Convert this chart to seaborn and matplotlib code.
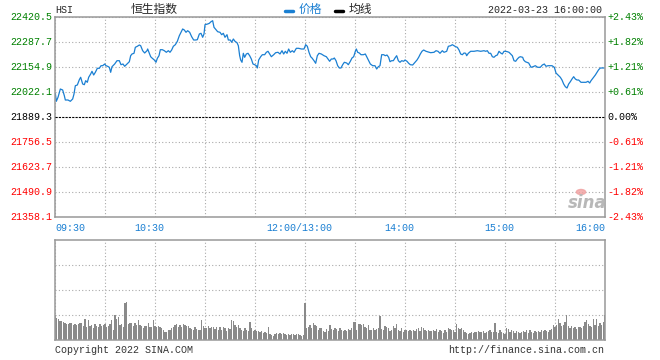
import matplotlib
matplotlib.use("Agg")
import numpy as np
import pandas as pd
import seaborn as sns
from matplotlib import pyplot as plt
from matplotlib import transforms
from matplotlib.lines import Line2D

# Minuten seit 09:30 (Handelszeit, Mittagspause ausgeblendet) und Kurs
minutes = [0.2, 0.8, 1.8, 3.2, 4.6, 5.6, 6.2, 7.8, 9.2, 10.6, 11.4, 12.2, 13.4, 14.6, 15.4, 16.6, 17.6, 18.4, 19.4, 20.2,
           21.4, 22.2, 23.2, 24.2, 25.4, 26.6, 27.6, 28.6, 29.8, 30.6, 31.6, 32.6, 33.4, 34.2, 35.8, 37.2, 38.6, 39.6, 40.8, 41.8,
           43.2, 44.6, 45.4, 46.2, 47.4, 48.2, 49.4, 50.6, 51.4, 52.6, 53.8, 55.2, 55.6, 56.6, 57.4, 58.4, 59.6, 60.6, 61.4, 62.4,
           63.2, 64.4, 65.6, 66.8, 68.0, 69.0, 70.0, 71.0, 72.2, 73.4, 74.6, 75.6, 76.6, 77.6, 78.6, 79.6, 80.8, 82.0, 83.2, 84.4,
           85.4, 86.6, 87.6, 88.6, 89.4, 90.0, 91.6, 92.6, 93.6, 94.6, 95.4, 96.6, 97.6, 99.0, 100.0, 101.0, 102.0, 103.2, 104.0, 105.2,
           106.0, 107.0, 108.0, 109.2, 110.0, 110.8, 111.4, 112.2, 113.0, 113.8, 114.8, 115.8, 116.8, 117.8, 118.8, 119.8, 120.8, 121.4, 122.2, 123.4,
           124.4, 125.8, 126.8, 127.8, 128.8, 129.8, 131.2, 132.4, 133.8, 135.0, 136.2, 137.2, 138.2, 139.2, 140.2, 141.2, 142.4, 143.4, 144.8, 146.2,
           147.8, 149.4, 150.4, 151.4, 152.4, 153.4, 154.2, 155.4, 156.4, 157.4, 158.4, 159.8, 161.4, 162.8, 163.8, 164.8, 165.8, 166.8, 167.6, 168.6,
           169.6, 170.6, 171.6, 172.6, 173.6, 175.0, 176.0, 177.2, 178.2, 179.2, 180.2, 180.8, 181.6, 182.6, 183.6, 185.0, 186.2, 187.2, 188.2, 189.2,
           190.6, 192.0, 193.0, 194.0, 195.0, 196.0, 197.2, 198.2, 199.2, 200.2, 201.0, 202.0, 203.0, 204.0, 205.0, 206.0, 207.0, 208.0, 209.2, 210.0,
           211.2, 212.2, 213.2, 214.6, 216.0, 217.2, 218.2, 219.2, 220.2, 221.2, 222.6, 225.4, 227.4, 228.6, 229.8, 231.0, 232.4, 233.4, 235.0, 236.0,
           237.4, 238.4, 239.4, 240.4, 241.4, 242.4, 243.4, 244.4, 245.4, 246.4, 247.0, 248.0, 249.4, 251.4, 253.4, 255.4, 257.4, 258.4, 259.4, 260.4,
           261.4, 262.4, 263.4, 264.4, 265.4, 266.4, 267.4, 268.4, 269.4, 270.4, 271.4, 272.4, 273.4, 274.4, 275.4, 276.4, 277.4, 278.4, 279.2, 280.6,
           281.2, 282.2, 284.2, 285.6, 286.8, 288.2, 289.6, 291.2, 292.4, 293.6, 294.6, 295.8, 297.2, 298.2, 299.6, 300.6, 301.8, 303.2, 304.2, 305.2,
           306.2, 307.2, 308.2, 309.2, 310.2, 311.2, 312.2, 313.2, 314.2, 315.6, 317.2, 318.6, 319.8, 320.8, 321.6, 322.8, 324.2, 325.2, 326.2, 327.2,
           328.2, 329.6]
prices = [22015.2, 21972.7, 21993.9, 22038.0, 22032.7, 22002.4, 21979.6, 21979.6, 21972.7, 21984.9, 22011.5, 22055.6, 22059.3, 22087.4, 22100.2, 22064.6, 22060.9, 22082.1, 22073.6, 22100.2,
          22117.7, 22132.1, 22112.4, 22126.7, 22148.0, 22148.0, 22161.8, 22161.8, 22170.8, 22161.8, 22158.6, 22153.3, 22126.7, 22156.5, 22170.8, 22188.4, 22188.4, 22167.1, 22170.8, 22158.6,
          22170.8, 22183.0, 22214.9, 22224.0, 22227.7, 22259.5, 22264.9, 22271.8, 22268.0, 22241.5, 22229.3, 22241.5, 22250.5, 22227.7, 22209.6, 22201.1, 22192.1, 22179.9, 22201.1, 22214.9,
          22246.8, 22246.8, 22241.5, 22233.0, 22241.5, 22233.0, 22245.2, 22264.9, 22273.4, 22291.4, 22321.2, 22339.2, 22356.8, 22351.4, 22339.2, 22347.7, 22339.2, 22315.8, 22298.3, 22298.3,
          22299.9, 22330.2, 22333.9, 22312.7, 22330.2, 22379.6, 22383.3, 22387.0, 22395.5, 22400.8, 22365.8, 22353.0, 22342.4, 22339.2, 22326.5, 22333.9, 22312.7, 22326.5, 22298.3, 22298.3,
          22286.1, 22303.6, 22291.4, 22284.0, 22268.0, 22214.9, 22192.1, 22179.9, 22227.7, 22206.4, 22224.0, 22227.7, 22214.9, 22197.4, 22170.8, 22167.1, 22161.8, 22149.6, 22192.1, 22209.6,
          22220.2, 22220.2, 22233.0, 22238.3, 22224.0, 22209.6, 22220.2, 22230.9, 22233.0, 22224.0, 22241.5, 22224.0, 22238.3, 22227.7, 22250.5, 22233.0, 22241.5, 22233.0, 22254.2, 22254.2,
          22250.5, 22250.5, 22273.4, 22264.9, 22233.0, 22209.6, 22202.7, 22188.4, 22174.6, 22214.9, 22227.7, 22224.0, 22214.9, 22209.6, 22197.4, 22185.2, 22197.4, 22197.4, 22202.7, 22188.4,
          22161.8, 22149.6, 22149.6, 22167.1, 22179.9, 22176.1, 22167.1, 22185.2, 22202.7, 22209.6, 22238.3, 22250.5, 22233.0, 22229.3, 22220.2, 22220.2, 22224.0, 22206.4, 22188.4, 22170.8,
          22161.8, 22161.8, 22144.3, 22156.5, 22161.8, 22220.2, 22220.2, 22214.9, 22218.6, 22206.4, 22183.0, 22188.4, 22188.4, 22202.7, 22214.9, 22188.4, 22179.9, 22188.4, 22185.2, 22192.1,
          22185.2, 22174.6, 22167.1, 22165.5, 22179.9, 22192.1, 22206.4, 22224.0, 22238.3, 22245.2, 22238.3, 22230.9, 22233.0, 22241.5, 22238.3, 22227.7, 22241.5, 22233.0, 22238.3, 22264.9,
          22268.0, 22273.4, 22268.0, 22262.7, 22259.5, 22245.2, 22224.0, 22220.2, 22229.3, 22227.7, 22214.9, 22227.7, 22238.3, 22238.3, 22241.5, 22238.3, 22241.5, 22238.3, 22241.5, 22227.7,
          22227.7, 22209.6, 22206.4, 22214.9, 22218.6, 22238.3, 22229.3, 22224.0, 22238.3, 22238.3, 22236.2, 22233.0, 22224.0, 22214.9, 22188.4, 22185.2, 22197.4, 22206.4, 22209.6, 22206.4,
          22192.1, 22183.0, 22176.1, 22153.3, 22156.5, 22161.8, 22153.3, 22153.3, 22165.5, 22170.8, 22158.6, 22161.8, 22161.8, 22161.8, 22153.3, 22123.0, 22112.4, 22100.2, 22085.8, 22064.6,
          22050.2, 22043.3, 22064.6, 22076.8, 22091.2, 22103.4, 22091.2, 22085.8, 22085.8, 22073.6, 22073.6, 22073.6, 22078.9, 22069.9, 22082.1, 22096.5, 22112.4, 22126.7, 22140.6, 22149.6,
          22149.6, 22149.6]
assert len(minutes) == len(prices), (len(minutes), len(prices))

# Umsatz pro Minute (relative Balkenhöhe, Panel = 100)
volume = [25, 22, 21, 19, 19, 18, 17, 16, 16, 17, 17, 15, 16, 15, 16, 17, 17, 14, 21, 13,
          20, 14, 15, 12, 16, 14, 13, 16, 14, 15, 16, 13, 14, 16, 20, 10, 25, 21, 23, 15,
          16, 13, 37, 38, 16, 17, 17, 14, 17, 15, 20, 15, 14, 12, 14, 14, 17, 13, 13, 20,
          14, 13, 14, 13, 12, 10, 8, 8, 10, 10, 12, 13, 15, 16, 13, 15, 13, 16, 15, 14,
          14, 12, 11, 10, 13, 11, 10, 10, 20, 14, 12, 12, 14, 12, 13, 13, 11, 13, 10, 13,
          10, 13, 12, 9, 12, 11, 20, 19, 15, 13, 15, 12, 10, 9, 12, 10, 9, 18, 12, 9,
          10, 9, 9, 8, 9, 7, 8, 7, 13, 6, 5, 4, 6, 7, 6, 7, 6, 7, 6, 5,
          6, 5, 6, 6, 5, 6, 6, 5, 4, 5,
          37, 12, 13, 15, 12, 17, 15, 14, 10, 12, 12, 9, 8, 11, 9,
          15, 11, 10, 12, 11, 9, 12, 10, 9, 10, 9, 11, 10, 12, 18, 18, 10, 16, 16, 15,
          16, 13, 12, 15, 10, 10, 12, 10, 11, 12, 24, 11, 10, 14, 13, 12, 9, 10, 14, 12,
          16, 10, 9, 12, 8, 10, 10, 9, 10, 9, 10, 9, 11, 12, 9, 13, 12, 10, 9, 10,
          9, 9, 10, 9, 11, 8, 10, 9, 7, 10, 8, 12, 11, 10, 10, 8, 16, 12, 11, 12,
          10, 8, 7, 6, 7, 8, 7, 8, 8, 9, 8, 8, 9, 7, 8, 9, 10, 8, 8, 17,
          8, 7, 10, 8, 7, 6, 12, 11, 8, 10, 9, 7, 9, 8, 7, 8, 9, 8, 10, 7,
          10, 8, 7, 9, 8, 9, 8, 10, 9, 10, 9, 8, 10, 11, 15, 13, 15, 21, 17, 14,
          15, 18, 25, 14, 12, 14, 12, 13, 11, 13, 13, 12, 14, 18, 20, 16, 14, 13, 21, 15,
          21, 14, 17, 15, 18, 25]
vol_minutes = list(range(len(volume)))

prev_close = 21889.3
price_ticks = [22420.5, 22287.7, 22154.9, 22022.1, 21889.3, 21756.5, 21623.7, 21490.9, 21358.1]
pct_labels = ["+2.43%", "+1.82%", "+1.21%", "+0.61%", "0.00%", "-0.61%", "-1.21%", "-1.82%", "-2.43%"]
time_ticks = [0, 60, 150, 210, 270, 330]
time_labels = ["09:30", "10:30", "12:00/13:00", "14:00", "15:00", "16:00"]
grid_minutes = list(range(0, 331, 30))

sns.set_style("white")
plt.rcParams['font.family'] = ['Liberation Mono', 'Noto Sans CJK SC', 'DejaVu Sans']

W, H = 660, 360
fig = plt.figure(figsize=(6.6, 3.6), dpi=100)
ax = fig.add_axes([55 / W, 1 - 217 / H, 550 / W, 200 / H])
axv = fig.add_axes([55 / W, 1 - 340 / H, 550 / W, 100 / H])

blue = "#1a7fd2"
green = "#008000"
red = "#ff0000"
frame = "#999999"
gridc = "#aaaaaa"
fs = 7.2

# Kurslinie
sns.lineplot(x=minutes, y=prices, ax=ax, color=blue, lw=0.9, estimator=None)
ax.axhline(prev_close, color="black", lw=0.8, ls=(0, (2, 1)), zorder=3)
ax.set_xlim(0, 330)
ax.set_ylim(price_ticks[-1], price_ticks[0])
ax.set_xticks(grid_minutes)
ax.set_yticks([t for t in price_ticks if t != prev_close])
ax.grid(True, color=gridc, lw=0.8, ls=(0, (1, 2)))
ax.tick_params(length=0, labelleft=False, labelbottom=False)
ax.set_xlabel("")
ax.set_ylabel("")

ytr = ax.get_yaxis_transform()
for val, pct in zip(price_ticks, pct_labels):
    if val > prev_close:
        c = green
    elif val < prev_close:
        c = red
    else:
        c = "black"
    ax.text(-3 / 550, val, f"{val:.1f}", transform=ytr, ha="right", va="center", color=c, fontsize=fs)
    ax.text(1 + 2 / 550, val, pct, transform=ytr, ha="left", va="center", color=c, fontsize=fs)

xtr = ax.get_xaxis_transform()
for t, lab in zip(time_ticks, time_labels):
    if t == time_ticks[0]:
        ax.text(t, -0.055, lab, transform=xtr, ha="left", va="center", color=blue, fontsize=fs)
    elif t == time_ticks[-1]:
        ax.text(t, -0.055, lab, transform=xtr, ha="right", va="center", color=blue, fontsize=fs)
    else:
        tr = transforms.offset_copy(xtr, fig=fig, x=-6, y=0, units="dots")
        ax.text(t, -0.055, lab, transform=tr, ha="center", va="center", color=blue, fontsize=fs)

# Umsatzbalken
sns.barplot(x=vol_minutes, y=volume, ax=axv, native_scale=True, color="#8a8a8a",
            saturation=1, width=0.75, errorbar=None, linewidth=0)
axv.set_xlim(0, 330)
axv.set_ylim(0, 100)
axv.set_xticks(grid_minutes)
axv.set_yticks([25, 50, 75])
axv.grid(True, color=gridc, lw=0.8, ls=(0, (1, 2)))
axv.set_axisbelow(True)
axv.tick_params(length=0, labelleft=False, labelbottom=False)
axv.set_xlabel("")
axv.set_ylabel("")

for a in (ax, axv):
    for s in a.spines.values():
        s.set_visible(True)
        s.set_color(frame)
        s.set_linewidth(1.1)

# Kopfzeile
def fx(px):
    return px / W

def fy(py):
    return 1 - py / H

fig.text(fx(55), fy(10), "HSI", fontsize=fs, va="center", ha="left")
fig.text(fx(154), fy(10), "恒生指数", fontsize=8.5, va="center", ha="center")
fig.add_artist(Line2D([fx(285), fx(293)], [fy(11), fy(11)], color=blue, lw=2.5, transform=fig.transFigure))
fig.text(fx(299), fy(10), "价格", fontsize=8.5, va="center", ha="left", color=blue)
fig.add_artist(Line2D([fx(335), fx(343)], [fy(11), fy(11)], color="black", lw=2.5, transform=fig.transFigure))
fig.text(fx(349), fy(10), "均线", fontsize=8.5, va="center", ha="left")
fig.text(fx(602), fy(10), "2022-03-23 16:00:00", fontsize=fs, va="center", ha="right")

# Wasserzeichen
fig.text(fx(587), fy(203), "sina", fontsize=12, style="italic", weight="bold", color="#b8b8b8",
         ha="center", va="center", family="DejaVu Sans")
fig.add_artist(plt.Circle((fx(581), fy(192)), 0.007, color="#f0a0a0", alpha=0.8, transform=fig.transFigure))

# Fußzeile
fig.text(fx(55), fy(350), "Copyright 2022 SINA.COM", fontsize=fs, va="center", ha="left", color="#333333")
fig.text(fx(604), fy(350), "http://finance.sina.com.cn", fontsize=fs, va="center", ha="right", color="#333333")

fig.savefig("out.png", dpi=100)
